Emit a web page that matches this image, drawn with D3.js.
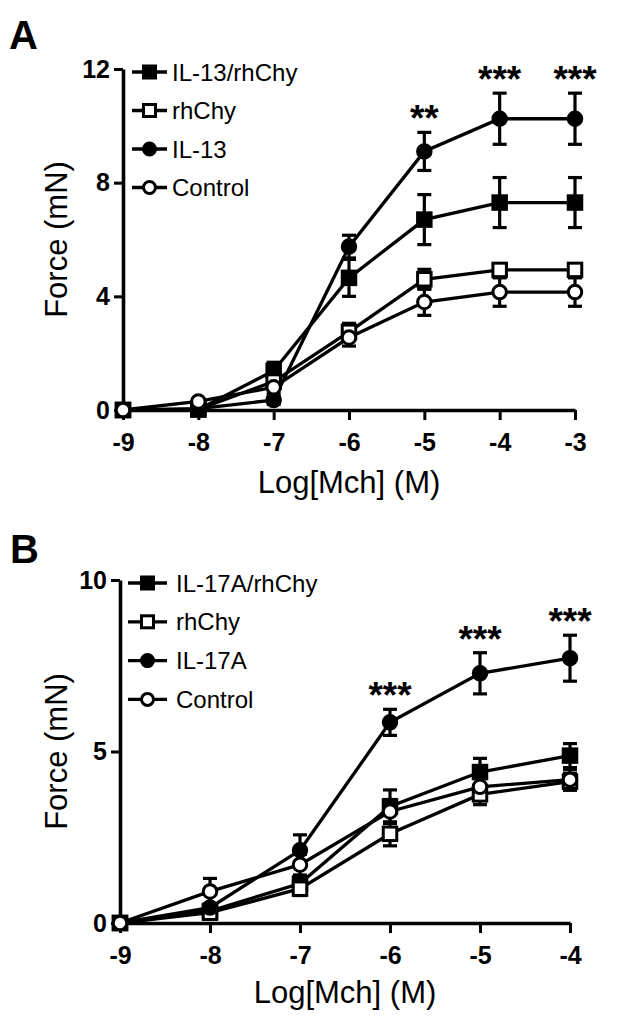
<!DOCTYPE html>
<html><head><meta charset="utf-8">
<script src="https://cdn.jsdelivr.net/npm/d3@7"></script>
<style>
html,body{margin:0;padding:0;background:#fff;}
svg{display:block;font-family:"Liberation Sans",Arial,Helvetica,sans-serif;}
</style></head>
<body><svg id="c" width="631" height="1023"></svg>
<script>
// ---------- DATA ----------
const seriesNamesA = ["IL-13/rhChy", "rhChy", "IL-13", "Control"];
const seriesNamesB = ["IL-17A/rhChy", "rhChy", "IL-17A", "Control"];
const markerTypes = ["squareFilled", "squareOpen", "circleFilled", "circleOpen"];

const xA = [-9, -8, -7, -6, -5, -4, -3];
const A_combo   = [0, 0.02, 1.38, 4.65, 6.70, 7.30, 7.30];
const A_combo_e = [0, 0.05, 0.30, 0.65, 0.88, 0.88, 0.88];
const A_rhChy   = [0, 0.02, 1.00, 2.75, 4.60, 4.93, 4.93];
const A_rhChy_e = [0, 0.05, 0.20, 0.30, 0.35, 0.22, 0.22];
const A_IL13    = [0, 0.05, 0.35, 5.75, 9.10, 10.25, 10.25];
const A_IL13_e  = [0, 0.05, 0.15, 0.40, 0.67, 0.90, 0.90];
const A_ctrl    = [0, 0.30, 0.80, 2.55, 3.80, 4.15, 4.15];
const A_ctrl_e  = [0, 0.10, 0.20, 0.30, 0.47, 0.50, 0.50];
const yTicksA = [0, 4, 8, 12];
const starsA_x = [-5, -4, -3];
const starsA_t = ["**", "***", "***"];

const xB = [-9, -8, -7, -6, -5, -4];
const B_combo   = [0, 0.35, 1.15, 3.40, 4.40, 4.88];
const B_combo_e = [0, 0.10, 0.20, 0.48, 0.40, 0.35];
const B_rhChy   = [0, 0.30, 1.00, 2.60, 3.75, 4.12];
const B_rhChy_e = [0, 0.10, 0.20, 0.35, 0.30, 0.25];
const B_IL17    = [0, 0.45, 2.12, 5.85, 7.28, 7.72];
const B_IL17_e  = [0, 0.10, 0.45, 0.38, 0.60, 0.67];
const B_ctrl    = [0, 0.92, 1.70, 3.25, 3.97, 4.18];
const B_ctrl_e  = [0, 0.38, 0.30, 0.35, 0.30, 0.30];
const yTicksB = [0, 5, 10];
const starsB_x = [-6, -5, -4];
const starsB_t = ["***", "***", "***"];

const xTitle = "Log[Mch] (M)";
const yTitle = "Force (mN)";

// ---------- DRAW ----------
const svg = d3.select("#c");

function marker(g, type, cx, cy, s) {
  if (type.startsWith("square")) {
    g.append("rect").attr("x", cx - s/2).attr("y", cy - s/2).attr("width", s).attr("height", s)
      .attr("fill", type === "squareFilled" ? "#000" : "#fff").attr("stroke", "#000").attr("stroke-width", 3);
  } else {
    g.append("circle").attr("cx", cx).attr("cy", cy).attr("r", s/2)
      .attr("fill", type === "circleFilled" ? "#000" : "#fff").attr("stroke", "#000").attr("stroke-width", 3);
  }
}

function panel(cfg) {
  const g = svg.append("g");
  const x = d3.scaleLinear().domain(cfg.xDomain).range(cfg.xRange);
  const y = d3.scaleLinear().domain(cfg.yDomain).range(cfg.yRange);

  // axes
  const ax = g.append("g").attr("transform", `translate(0,${cfg.yRange[0]})`)
    .call(d3.axisBottom(x).tickValues(cfg.xs).tickFormat(d => String(d)).tickSize(10).tickPadding(13).tickSizeOuter(0));
  const ay = g.append("g").attr("transform", `translate(${cfg.xRange[0]},0)`)
    .call(d3.axisLeft(y).tickValues(cfg.yTicks).tickFormat(d => String(d)).tickSize(9).tickPadding(4).tickSizeOuter(0));
  [ax, ay].forEach(a => {
    a.select(".domain").attr("stroke", "#000").attr("stroke-width", 3.6);
    a.selectAll(".tick line").attr("stroke", "#000").attr("stroke-width", 3);
    a.selectAll(".tick text").attr("fill", "#000").attr("font-size", 25).attr("font-weight", "bold")
      .attr("font-family", "'Liberation Sans',Arial,sans-serif");
  });

  // series
  const line = d3.line().x((d, i) => x(cfg.xs[i])).y(d => y(d));
  cfg.series.forEach(s => {
    g.append("path").datum(s.v).attr("d", line).attr("fill", "none").attr("stroke", "#000").attr("stroke-width", 3.3);
  });
  cfg.series.forEach(s => {
    s.v.forEach((v, i) => {
      const e = s.e[i];
      if (e > 0.06) {
        const cx = x(cfg.xs[i]);
        g.append("line").attr("x1", cx).attr("x2", cx).attr("y1", y(v - e)).attr("y2", y(v + e))
          .attr("stroke", "#000").attr("stroke-width", 3.2);
        [v - e, v + e].forEach(t => g.append("line").attr("x1", cx - 7).attr("x2", cx + 7)
          .attr("y1", y(t)).attr("y2", y(t)).attr("stroke", "#000").attr("stroke-width", 3.2));
      }
    });
  });
  cfg.series.forEach(s => {
    s.v.forEach((v, i) => marker(g, s.type, x(cfg.xs[i]), y(v), 13.5));
  });

  // significance stars (above the top of the highest error bar)
  const top = cfg.series[cfg.starSeries];
  cfg.starsX.forEach((xv, k) => {
    const i = cfg.xs.indexOf(xv);
    const yy = y(top.v[i] + top.e[i]) - 21;
    g.append("text").attr("x", x(xv)).attr("y", yy + 20).attr("text-anchor", "middle")
      .attr("font-size", 37).attr("font-weight", "bold").text(cfg.starsT[k]);
  });

  // legend
  cfg.names.forEach((n, k) => {
    const ly = cfg.legY + k * cfg.legStep;
    g.append("line").attr("x1", cfg.legX1).attr("x2", cfg.legX2).attr("y1", ly).attr("y2", ly)
      .attr("stroke", "#000").attr("stroke-width", 3.3);
    marker(g, cfg.series[k].type, (cfg.legX1 + cfg.legX2) / 2, ly, 12);
    g.append("text").attr("x", cfg.legTX).attr("y", ly + 8.5).attr("font-size", 24).attr("fill", "#000").text(n);
  });

  // titles
  const xm = (cfg.xRange[0] + cfg.xRange[1]) / 2;
  g.append("text").attr("x", xm).attr("y", cfg.xTitleY).attr("text-anchor", "middle")
    .attr("font-size", 31).text(xTitle);
  const ym = (cfg.yRange[0] + cfg.yRange[1]) / 2;
  g.append("text").attr("transform", `translate(67,${ym}) rotate(-90)`).attr("text-anchor", "middle")
    .attr("font-size", 31).text(yTitle);
  g.append("text").attr("x", cfg.letterX).attr("y", cfg.letterY).attr("font-size", 40).attr("font-weight", "bold")
    .text(cfg.letter);
}

panel({
  letter: "A", letterX: 9, letterY: 49,
  xs: xA, xDomain: [-9, -3], xRange: [123, 575], yDomain: [0, 12], yRange: [410, 69], yTicks: yTicksA,
  names: seriesNamesA,
  series: [
    {v: A_combo, e: A_combo_e, type: markerTypes[0]},
    {v: A_rhChy, e: A_rhChy_e, type: markerTypes[1]},
    {v: A_IL13, e: A_IL13_e, type: markerTypes[2]},
    {v: A_ctrl, e: A_ctrl_e, type: markerTypes[3]}
  ],
  starSeries: 2, starsX: starsA_x, starsT: starsA_t,
  legY: 72, legStep: 38.5, legX1: 132, legX2: 167, legTX: 172,
  xTitleY: 493
});

panel({
  letter: "B", letterX: 10, letterY: 563,
  xs: xB, xDomain: [-9, -4], xRange: [120, 570], yDomain: [0, 10], yRange: [923, 580], yTicks: yTicksB,
  names: seriesNamesB,
  series: [
    {v: B_combo, e: B_combo_e, type: markerTypes[0]},
    {v: B_rhChy, e: B_rhChy_e, type: markerTypes[1]},
    {v: B_IL17, e: B_IL17_e, type: markerTypes[2]},
    {v: B_ctrl, e: B_ctrl_e, type: markerTypes[3]}
  ],
  starSeries: 2, starsX: starsB_x, starsT: starsB_t,
  legY: 583, legStep: 38.8, legX1: 128, legX2: 167, legTX: 176,
  xTitleY: 1003
});
</script></body></html>
